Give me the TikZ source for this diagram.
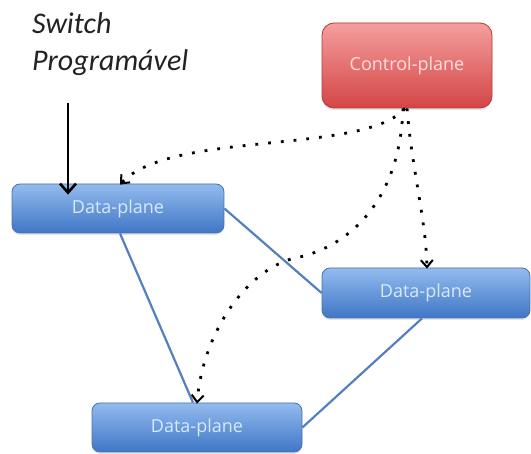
\documentclass[tikz,border=0pt]{standalone}
\usepackage{fontspec}
\setmainfont{Carlito}
\newfontfamily\boxfont{Open Sans}
\usetikzlibrary{arrows.meta,shadows}
\definecolor{bluetop}{HTML}{93BBEE}
\definecolor{bluebot}{HTML}{3F76C6}
\definecolor{blueedge}{HTML}{4672B0}
\definecolor{bluetext}{HTML}{D6E9FD}
\definecolor{redtop}{HTML}{F59E9E}
\definecolor{redbot}{HTML}{D44545}
\definecolor{rededge}{HTML}{B23C3C}
\definecolor{redtext}{HTML}{FFDEDE}
\definecolor{linkblue}{HTML}{5480BE}
\definecolor{labelgray}{HTML}{222222}
\tikzset{
  dpbox/.style={draw=blueedge, line width=0.8pt, rounded corners=8pt,
    top color=bluetop, bottom color=bluebot, text=bluetext,
    minimum width=210pt, minimum height=49pt, inner sep=0pt,
    font=\boxfont\fontsize{18}{21}\selectfont,
    drop shadow={opacity=0.2, shadow xshift=0pt, shadow yshift=-2pt}},
  cpbox/.style={draw=rededge, line width=0.8pt, rounded corners=12pt,
    top color=redtop, bottom color=redbot, text=redtext,
    minimum width=170pt, minimum height=85pt, inner sep=0pt,
    font=\boxfont\fontsize{18}{21}\selectfont,
    drop shadow={opacity=0.2, shadow xshift=0pt, shadow yshift=-2pt}},
  link/.style={draw=linkblue, line width=2.2pt},
  dotarrow/.style={draw=black, line width=2.8pt, dash pattern=on 2.8pt off 10pt,
    -{Straight Barb[length=7pt,width=12pt,line width=2pt]}},
  bigarrow/.style={draw=black, line width=2.6pt,
    -{Straight Barb[length=9pt,width=16pt,line width=2.6pt]}}
}
\begin{document}
\begin{tikzpicture}[x=1pt,y=-1pt]
\useasboundingbox[fill=white] (0,0) rectangle (531,454);
% boxes
\node[cpbox] (cp) at (407,65.5) {Control-plane};
\node[dpbox, minimum width=212pt] (dp1) at (118,208.5) {Data-plane};
\node[dpbox, minimum width=208pt, minimum height=50pt] (dp2) at (426,293) {Data-plane};
\node[dpbox] (dp3) at (197,427.5) {Data-plane};
% label
\node[anchor=north west, align=left, inner sep=0pt, text=labelgray,
  font=\fontsize{30}{37}\selectfont\itshape] (sw) at (32,12) {Switch\\Programável};
\coordinate (arrS) at (68,103);
\draw[bigarrow] (arrS) -- ([yshift=-11pt]arrS |- dp1.north);
% links
\draw[link] (dp1.east) -- (dp2.west);
\draw[link] ([xshift=2pt]dp1.south) -- ([xshift=-4pt]dp3.north);
\draw[link] ([xshift=-4pt]dp2.south) -- (dp3.east);
% dotted control arrows
\draw[dotarrow] ([xshift=-2pt]cp.south) .. controls (365,155) and (170,130) .. ([xshift=2pt,yshift=-1pt]dp1.north);
\draw[dotarrow] (cp.south) .. controls (412,170) and (426,220) .. ([xshift=1pt,yshift=-1pt]dp2.north);
\coordinate (mid) at (300,257);
\draw[dotarrow] ([xshift=-4pt]cp.south) .. controls (400,200) and (350,245) .. (mid)
   .. controls (250,265) and (203,330) .. ([yshift=-1pt]dp3.north);
\end{tikzpicture}
\end{document}
